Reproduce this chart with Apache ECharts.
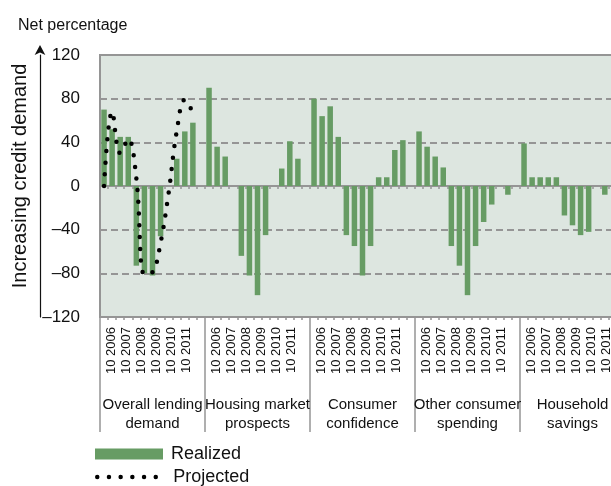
<!DOCTYPE html>
<html>
<head>
<meta charset="utf-8">
<script src="https://cdn.jsdelivr.net/npm/echarts@6/dist/echarts.min.js"></script>
<style>
  html, body { margin: 0; padding: 0; background: #fff; }
  #chart { width: 611px; height: 486px; }
</style>
</head>
<body>
<div id="chart"></div>
<script>
// groups along the x axis, each has 12 half-year slots plus one empty slot
const groupNames = ['Overall lending\ndemand', 'Housing market\nprospects', 'Consumer\nconfidence', 'Other consumer\nspending', 'Household\nsavings'];
const yearLabels = ['10 2006', '10 2007', '10 2008', '10 2009', '10 2010', '10 2011'];
const slotsPerGroup = 12;

// realized values (net percentage), one array per group
const overallLending = [70, 52, 45, 45, -73, -80, -82, -46, 0, 25, 50, 58];
const housingMarket = [90, 36, 27, 0, -64, -82, -100, -45, 0, 16, 41, 25];
const consumerConfidence = [80, 64, 73, 45, -45, -55, -82, -55, 8, 8, 33, 42];
const otherSpending = [50, 36, 27, 17, -55, -73, -100, -55, -33, -17, 0, -8];
const householdSavings = [39, 8, 8, 8, 8, -27, -36, -45, -42, 0, -8, null];

// projected overall lending demand
const projectedLending = [0, 68, 30, 43, 7, -81, -79, -52, -6, 50, 79, 67];

const yTicks = [-120, -80, -40, 0, 40, 80, 120];

const FONT = "'Liberation Sans', Arial, sans-serif";
const GREEN = '#679c64';
const GRAY = '#959595';

// build the 65-slot category axis
const realizedGroups = [overallLending, housingMarket, consumerConfidence, otherSpending, householdSavings];
let slotCats = [], realized = [], projected = [];
realizedGroups.forEach((vals, g) => {
    for (let i = 0; i <= slotsPerGroup; i++) {
        slotCats.push(g + '-' + i);
        realized.push(i < slotsPerGroup ? vals[i] : null);
        projected.push(g === 0 && i < slotsPerGroup ? projectedLending[i] : null);
    }
});

// label axis: 6 year labels + 1 blank per group
let labelCats = [];
groupNames.forEach(() => {
    yearLabels.forEach(l => labelCats.push(l));
    labelCats.push('');
});

const dotStyle = { color: '#000', width: 4.5, type: [0, 11.7], cap: 'round' };

const legendBase = {
    left: 95,
    padding: 0,
    itemWidth: 68,
    itemHeight: 11,
    textStyle: { fontSize: 18, color: '#111', padding: [0, 0, 0, 3] }
};

const chart = echarts.init(document.getElementById('chart'));

let option = {
    animation: false,
    textStyle: { fontFamily: FONT },
    title: {
        text: 'Net percentage',
        left: 13,
        top: 13,
        textStyle: { fontSize: 16, fontWeight: 'normal', color: '#111', fontFamily: FONT }
    },
    legend: [
        Object.assign({}, legendBase, {
            top: 445,
            data: [{ name: 'Realized', icon: 'rect' }]
        }),
        Object.assign({}, legendBase, {
            top: 468,
            data: [{ name: 'Projected', itemStyle: { opacity: 0 }, lineStyle: dotStyle }]
        })
    ],
    grid: [
        {
            left: 100, top: 55, width: 525, height: 262,
            outerBoundsMode: 'none',
            show: true,
            backgroundColor: '#dde6e0',
            borderColor: GRAY,
            borderWidth: 2
        },
        { left: 104, top: 55, width: 525, height: 262, outerBoundsMode: 'none', show: false }
    ],
    xAxis: [
        {
            // zero line with small ticks
            type: 'category',
            gridIndex: 0,
            data: slotCats,
            axisLine: { onZero: true, lineStyle: { color: GRAY, width: 2 } },
            axisTick: { show: true, interval: 0, length: 3, lineStyle: { color: GRAY, width: 1.5 } },
            axisLabel: { show: false },
            splitLine: { show: false }
        },
        {
            // small ticks along the bottom border
            type: 'category',
            gridIndex: 0,
            position: 'bottom',
            data: slotCats,
            axisLine: { show: false, onZero: false },
            axisTick: { show: true, interval: 0, length: 3, lineStyle: { color: GRAY, width: 1.5 } },
            axisLabel: { show: false }
        },
        {
            // group names and separators
            type: 'category',
            gridIndex: 0,
            position: 'bottom',
            data: groupNames,
            axisLine: { show: true, onZero: false, lineStyle: { color: GRAY, width: 2 } },
            axisTick: { show: true, interval: 0, length: 115, lineStyle: { color: GRAY, width: 1.5 } },
            axisLabel: { interval: 0, margin: 78, fontSize: 15, lineHeight: 19, color: '#111' }
        },
        {
            // year labels
            type: 'category',
            gridIndex: 1,
            position: 'bottom',
            data: labelCats,
            axisLine: { show: false, onZero: false },
            axisTick: { show: false },
            axisLabel: { interval: 0, rotate: 90, margin: 10, fontSize: 13, color: '#111' }
        }
    ],
    yAxis: [
        {
            type: 'value',
            gridIndex: 0,
            min: yTicks[0],
            max: yTicks[yTicks.length - 1],
            interval: 40,
            offset: 60,
            name: 'Increasing credit demand',
            nameLocation: 'middle',
            nameGap: 10,
            nameRotate: 90,
            nameTextStyle: { fontSize: 20, color: '#111', padding: [0, 0, 0, 20] },
            axisLine: {
                show: true,
                symbol: ['none', 'arrow'],
                symbolSize: [8, 10],
                symbolOffset: [0, 10],
                lineStyle: { color: '#111', width: 1.2 }
            },
            axisTick: { show: false },
            axisLabel: {
                inside: true,
                align: 'right',
                margin: 40,
                fontSize: 17,
                color: '#111',
                formatter: v => String(v).replace('-', '\u2013')
            },
            splitLine: { show: true, lineStyle: { color: GRAY, width: 2, type: [7, 4] } }
        },
        { type: 'value', gridIndex: 1, show: false, min: -120, max: 120 }
    ],
    series: [
        {
            name: 'Realized',
            type: 'bar',
            xAxisIndex: 0,
            yAxisIndex: 0,
            barWidth: 5.5,
            itemStyle: { color: GREEN },
            data: realized
        },
        {
            name: 'Projected',
            type: 'line',
            xAxisIndex: 0,
            yAxisIndex: 0,
            smooth: 0.4,
            symbol: 'none',
            connectNulls: false,
            z: 5,
            lineStyle: dotStyle,
            itemStyle: { color: '#000' },
            data: projected
        }
    ]
};

chart.setOption(option);
</script>
</body>
</html>
